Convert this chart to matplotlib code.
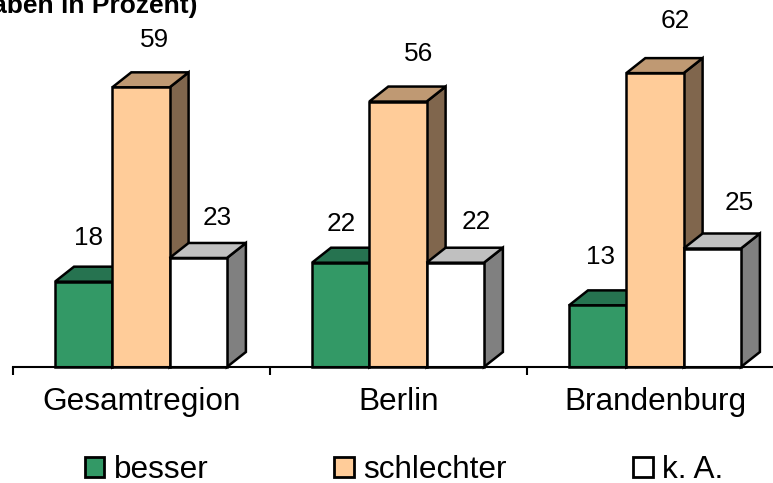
import matplotlib
matplotlib.use('Agg')
import matplotlib.pyplot as plt
from matplotlib.patches import Polygon, Patch
import numpy as np

plt.rcParams['font.family'] = ['Liberation Sans', 'DejaVu Sans']

# data
regions = ['Gesamtregion', 'Berlin', 'Brandenburg']
series = ['besser', 'schlechter', 'k. A.']
besser = [18, 22, 13]
schlechter = [59, 56, 62]
ka = [23, 22, 25]
title = '(Angaben in Prozent)'

# style
front_colors = ['#339966', '#FFCC99', '#FFFFFF']
top_colors = ['#267350', '#BF9973', '#C0C0C0']
side_colors = ['#1A4D33', '#80664D', '#808080']

# hand placed data labels in the original, offset in pixels from the bar top
label_dx = [[5, 14, 19], [1, 21, 21], [3, 20, 27]]
label_dy = [[44, 47, 40], [39, 48, 41], [48, 52, 46]]

W, H = 773, 483
fig = plt.figure(figsize=(W / 100, H / 100), dpi=100)
ax = fig.add_axes([13 / W, (H - 367) / H, 771 / W, 367 / H])
ax.set_xlim(0, 3)
ax.set_ylim(0, 367 / 4.74)

bar_w = 57.3 / 257
start = 42 / 257
depth_x = 19 / 257
depth_y = 15 / 4.74
lw = 1.8

x = np.arange(len(regions))
for s, values in enumerate([besser, schlechter, ka]):
    lefts = x + start + s * bar_w
    for i, v in enumerate(values):
        l = lefts[i]
        r = l + bar_w
        side = [(r, 0), (r + depth_x, depth_y), (r + depth_x, v + depth_y), (r, v)]
        top = [(l, v), (l + depth_x, v + depth_y), (r + depth_x, v + depth_y), (r, v)]
        ax.add_patch(Polygon(side, fc=side_colors[s], ec='black', lw=lw,
                             zorder=3 + s, clip_on=False, joinstyle='miter'))
        ax.add_patch(Polygon(top, fc=top_colors[s], ec='black', lw=lw,
                             zorder=3 + s, clip_on=False, joinstyle='miter'))
        ax.annotate(str(v), (l + bar_w / 2, v), xytext=(label_dx[i][s], label_dy[i][s]),
                    textcoords='offset pixels', ha='center', va='center',
                    fontsize=18.8, color='black', zorder=10)
    ax.bar(lefts, values, width=bar_w, align='edge', color=front_colors[s],
           edgecolor='black', linewidth=lw, zorder=3 + s, clip_on=False)

for spine in ['top', 'right', 'left']:
    ax.spines[spine].set_visible(False)
ax.spines['bottom'].set_linewidth(1.5)
ax.spines['bottom'].set_zorder(8)
ax.yaxis.set_visible(False)
ax.patch.set_visible(False)

ax.set_xticks([0, 1, 2, 3])
ax.set_xticklabels([])
ax.set_xticks(x + 0.5, minor=True)
ax.set_xticklabels(regions, minor=True, fontsize=22.7)
ax.tick_params(axis='x', which='major', length=5.5, width=1.5, direction='out')
ax.tick_params(axis='x', which='minor', length=0, pad=14.5)

fig.text(197 / W, 1 - 13 / H, title, ha='right', va='baseline',
         fontsize=19, fontweight='bold')

handles = [Patch(fc=c, ec='black', lw=2.0) for c in front_colors]
fig.legend(handles, series, loc='center', bbox_to_anchor=(404 / W, 1 - 470 / H),
           ncol=3, frameon=False, fontsize=22.7, handlelength=0.62, handleheight=0.62,
           handletextpad=0.3, columnspacing=4.0, borderpad=0)

fig.savefig('out.png', dpi=100)
